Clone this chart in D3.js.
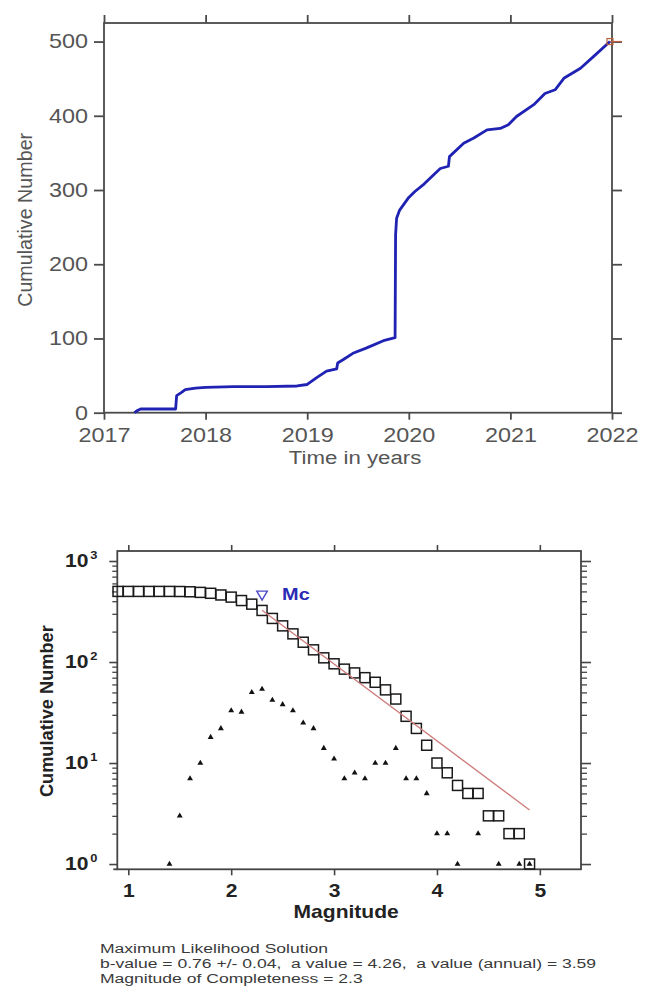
<!DOCTYPE html>
<html><head><meta charset="utf-8">
<script src="https://cdn.jsdelivr.net/npm/d3@7"></script>
<style>
html,body{margin:0;padding:0;background:#fff;}
svg{display:block;font-family:"Liberation Sans",Arial,sans-serif;}
</style></head><body>
<svg id="c" width="662" height="994"></svg>
<script>
// ---------- DATA: top chart (cumulative number vs time) ----------
const timeYears = [2017.30, 2017.33, 2017.36, 2017.705, 2017.715, 2017.76, 2017.80, 2017.90, 2018.00, 2018.28, 2018.60, 2018.90, 2019.00, 2019.09, 2019.19, 2019.29, 2019.30, 2019.36, 2019.45, 2019.58, 2019.75, 2019.865, 2019.87, 2019.88, 2019.91, 2020.00, 2020.06, 2020.15, 2020.24, 2020.31, 2020.39, 2020.40, 2020.54, 2020.64, 2020.77, 2020.90, 2020.98, 2021.06, 2021.23, 2021.34, 2021.44, 2021.53, 2021.69, 2021.82, 2021.98];
const cumEvents = [0, 3, 5, 5, 23, 27, 31, 33, 34, 35, 35, 36, 38, 47, 56, 59, 67, 72, 80, 87, 97, 101, 240, 262, 273, 290, 298, 308, 320, 329, 332, 345, 363, 370, 381, 383, 388, 399, 415, 430, 435, 451, 464, 480, 500];
const yearTicks = [2017, 2018, 2019, 2020, 2021, 2022];
const countTicks = [0, 100, 200, 300, 400, 500];
const endYear = [2021.98];
const endCount = [500];

// ---------- DATA: bottom chart (frequency-magnitude) ----------
const magBins = [0.9,1.0,1.1,1.2,1.3,1.4,1.5,1.6,1.7,1.8,1.9,2.0,2.1,2.2,2.3,2.4,2.5,2.6,2.7,2.8,2.9,3.0,3.1,3.2,3.3,3.4,3.5,3.6,3.7,3.8,3.9,4.0,4.1,4.2,4.3,4.4,4.5,4.6,4.7,4.8,4.9];
const cumNumber = [500,500,500,500,500,500,499,496,489,479,461,439,406,374,324,270,228,190,157,132,110,96,85,78,70,63,53,43,29,22,15,10,8,6,5,5,3,3,2,2,1];
const triMag = [1.4,1.5,1.6,1.7,1.8,1.9,2.0,2.1,2.2,2.3,2.4,2.5,2.6,2.7,2.8,2.9,3.0,3.1,3.2,3.3,3.4,3.5,3.6,3.7,3.8,3.9,4.0,4.1,4.2,4.4,4.6,4.8,4.9];
const triCount = [1,3,7,10,18,22,33,32,50,54,42,38,33,25,22,14,11,7,8,7,10,10,14,7,7,5,2,2,1,2,1,1,1];
const fitMag = [2.3, 4.9];
const fitNumber = [325, 3.43];
const mcMag = [2.3];
const mcNumber = [470];
const magTicks = [1, 2, 3, 4, 5];
const decadeTicks = [1, 10, 100, 1000];
const minorTicks = [2,3,4,5,6,7,8,9,20,30,40,50,60,70,80,90,200,300,400,500,600,700,800,900];
const infoLines = [
  "Maximum Likelihood Solution",
  "b-value = 0.76 +/- 0.04,  a value = 4.26,  a value (annual) = 3.59",
  "Magnitude of Completeness = 2.3"
];

const SX = 1.17;
const svg = d3.select("#c");

function stretchedText(x, y, str, opts, sx) {
  const g = svg.append("g").attr("transform", `translate(${x},${y})`);
  const t = g.append("text").attr("transform", `scale(${sx || SX},1)`).text(str);
  for (const k in opts) t.attr(k, opts[k]);
  return t;
}
function styleAxis(g, color, w) {
  g.select(".domain").remove();
  g.selectAll(".tick line").attr("stroke", color).attr("stroke-width", w);
}

// ================= TOP CHART =================
const L1 = 104, R1 = 612, T1 = 23, B1 = 412.7;
const x1 = d3.scaleLinear().domain([2017, 2022]).range([L1, R1]);
const y1 = d3.scaleLinear().domain([0, 525]).range([B1, T1]);
const axCol1 = "#4a4a4a", txtCol1 = "#555";

const gl1 = svg.append("g").attr("transform", `translate(${L1},0)`)
  .call(d3.axisLeft(y1).tickValues(countTicks).tickSize(10).tickSizeOuter(0));
styleAxis(gl1, axCol1, 1.8);
gl1.selectAll(".tick text").attr("x", -16 / SX).attr("transform", `scale(${SX},1)`)
  .attr("font-size", 20).attr("fill", txtCol1).attr("font-family", "Liberation Sans, Arial, sans-serif");

const gr1 = svg.append("g").attr("transform", `translate(${R1},0)`)
  .call(d3.axisRight(y1).tickValues(countTicks).tickSize(10).tickFormat(""));
styleAxis(gr1, axCol1, 1.8);

const gb1 = svg.append("g").attr("transform", `translate(0,${B1})`)
  .call(d3.axisBottom(x1).tickValues(yearTicks).tickSize(7).tickPadding(8).tickFormat(d3.format("d")));
styleAxis(gb1, axCol1, 1.8);
gb1.selectAll(".tick text").attr("transform", `scale(${SX},1)`)
  .attr("font-size", 20).attr("fill", txtCol1).attr("font-family", "Liberation Sans, Arial, sans-serif");

const gt1 = svg.append("g").attr("transform", `translate(0,${T1})`)
  .call(d3.axisTop(x1).tickValues(yearTicks).tickSize(8).tickFormat(""));
styleAxis(gt1, axCol1, 1.8);

svg.append("rect").attr("x", L1).attr("y", T1).attr("width", R1 - L1).attr("height", B1 - T1)
  .attr("fill", "none").attr("stroke", axCol1).attr("stroke-width", 1.8);

const topData = timeYears.map((t, i) => [t, cumEvents[i]]);
svg.append("path").datum(topData)
  .attr("d", d3.line().x(d => x1(d[0])).y(d => y1(d[1])))
  .attr("fill", "none").attr("stroke", "#1f22b2").attr("stroke-width", 2.8)
  .attr("stroke-linejoin", "round");

// end marker
endYear.forEach((t, i) => {
  const ex = x1(t), ey = y1(endCount[i]);
  svg.append("line").attr("x1", ex).attr("x2", ex + 12).attr("y1", ey).attr("y2", ey)
    .attr("stroke", "#c0604a").attr("stroke-width", 1.3);
  svg.append("rect").attr("x", ex - 3).attr("y", ey - 3).attr("width", 6).attr("height", 6)
    .attr("fill", "none").attr("stroke", "#b8603a").attr("stroke-width", 1.2);
});

stretchedText((L1 + R1) / 2 - 3, 464, "Time in years", {"text-anchor": "middle", "font-size": 19, fill: txtCol1});
svg.append("text").attr("transform", `translate(32,${(T1 + B1) / 2 + 2}) rotate(-90)`)
  .attr("text-anchor", "middle").attr("font-size", 19.7).attr("fill", txtCol1).text("Cumulative Number");

// ================= BOTTOM CHART =================
const L2 = 117.3, R2 = 581, T2 = 551, B2 = 869.3;
const x2 = d3.scaleLinear().domain([0.893, 5.4]).range([L2, R2]);
const y2 = d3.scaleLog().domain([0.887, 1256]).range([B2, T2]);
const axCol2 = "#444", txtCol2 = "#222";

const gl2 = svg.append("g").attr("transform", `translate(${L2},0)`)
  .call(d3.axisLeft(y2).tickValues(decadeTicks).tickSize(8));
styleAxis(gl2, axCol2, 1.6);
gl2.selectAll(".tick text").each(function(d) {
  const t = d3.select(this);
  t.text(null).attr("text-anchor", "start").attr("x", (65 - L2) / SX)
    .attr("transform", `scale(${SX},1)`).attr("font-size", 18).attr("font-weight", "bold")
    .attr("fill", txtCol2).attr("font-family", "Liberation Sans, Arial, sans-serif");
  t.append("tspan").text("10");
  t.append("tspan").attr("dx", 1.5).attr("dy", -8).attr("font-size", 11).text(Math.round(Math.log10(d)));
});
const glm2 = svg.append("g").attr("transform", `translate(${L2},0)`)
  .call(d3.axisLeft(y2).tickValues(minorTicks).tickSize(5).tickFormat(""));
styleAxis(glm2, axCol2, 1.3);

const gr2 = svg.append("g").attr("transform", `translate(${R2},0)`)
  .call(d3.axisRight(y2).tickValues(decadeTicks).tickSize(10).tickFormat(""));
styleAxis(gr2, axCol2, 1.6);
const grm2 = svg.append("g").attr("transform", `translate(${R2},0)`)
  .call(d3.axisRight(y2).tickValues(minorTicks).tickSize(6).tickFormat(""));
styleAxis(grm2, axCol2, 1.3);

const gb2 = svg.append("g").attr("transform", `translate(0,${B2})`)
  .call(d3.axisBottom(x2).tickValues(magTicks).tickSize(6).tickPadding(9).tickFormat(d3.format("d")));
styleAxis(gb2, axCol2, 1.6);
gb2.selectAll(".tick text").attr("transform", `scale(${SX},1)`)
  .attr("font-size", 18).attr("font-weight", "bold").attr("fill", txtCol2)
  .attr("font-family", "Liberation Sans, Arial, sans-serif");

const gt2 = svg.append("g").attr("transform", `translate(0,${T2})`)
  .call(d3.axisTop(x2).tickValues(magTicks).tickSize(6).tickFormat(""));
styleAxis(gt2, axCol2, 1.6);

svg.append("rect").attr("x", L2).attr("y", T2).attr("width", R2 - L2).attr("height", B2 - T2)
  .attr("fill", "none").attr("stroke", axCol2).attr("stroke-width", 1.8);
svg.append("line").attr("x1", L2 - 4).attr("x2", L2).attr("y1", B2).attr("y2", B2)
  .attr("stroke", axCol2).attr("stroke-width", 1.8);

// triangles (non-cumulative)
svg.append("g").selectAll("path").data(triMag.map((m, i) => [m, triCount[i]])).join("path")
  .attr("d", d3.symbol().type(d3.symbolTriangle).size(15))
  .attr("transform", d => `translate(${x2(d[0])},${y2(d[1])})`)
  .attr("fill", "#111");

// squares (cumulative)
svg.append("g").selectAll("rect").data(magBins.map((m, i) => [m, cumNumber[i]])).join("rect")
  .attr("x", d => x2(d[0]) - 5).attr("y", d => y2(d[1]) - 5)
  .attr("width", 10).attr("height", 10)
  .attr("fill", "none").attr("stroke", "#1a1a1a").attr("stroke-width", 1.5);

// fit line
svg.append("path").datum(fitMag.map((m, i) => [m, fitNumber[i]]))
  .attr("d", d3.line().x(d => x2(d[0])).y(d => y2(d[1])))
  .attr("fill", "none").attr("stroke", "#cf7f7f").attr("stroke-width", 1.4);

// Mc marker
mcMag.forEach((m, i) => {
  const mx = x2(m), my = y2(mcNumber[i]);
  svg.append("path").attr("d", d3.symbol().type(d3.symbolTriangle).size(48))
    .attr("transform", `translate(${mx},${my}) rotate(180)`)
    .attr("fill", "none").attr("stroke", "#4a4ac8").attr("stroke-width", 1.4);
  stretchedText(mx + 20, my + 5.5, "Mc", {"font-size": 17, "font-weight": "bold", fill: "#2a2ab5"});
});

stretchedText((L2 + R2) / 2 - 3, 918, "Magnitude", {"text-anchor": "middle", "font-size": 18, "font-weight": "bold", fill: txtCol2});
svg.append("text").attr("transform", `translate(53,${(T2 + B2) / 2 + 1}) rotate(-90)`)
  .attr("text-anchor", "middle").attr("font-size", 18.2).attr("font-weight", "bold")
  .attr("fill", txtCol2).text("Cumulative Number");

// info text
infoLines.forEach((s, i) => {
  stretchedText(100, 953 + i * 15, s, {"font-size": 13.5, fill: "#3a3a3a", "xml:space": "preserve"}, 1.3)
    .style("white-space", "pre");
});
</script>
</body></html>
